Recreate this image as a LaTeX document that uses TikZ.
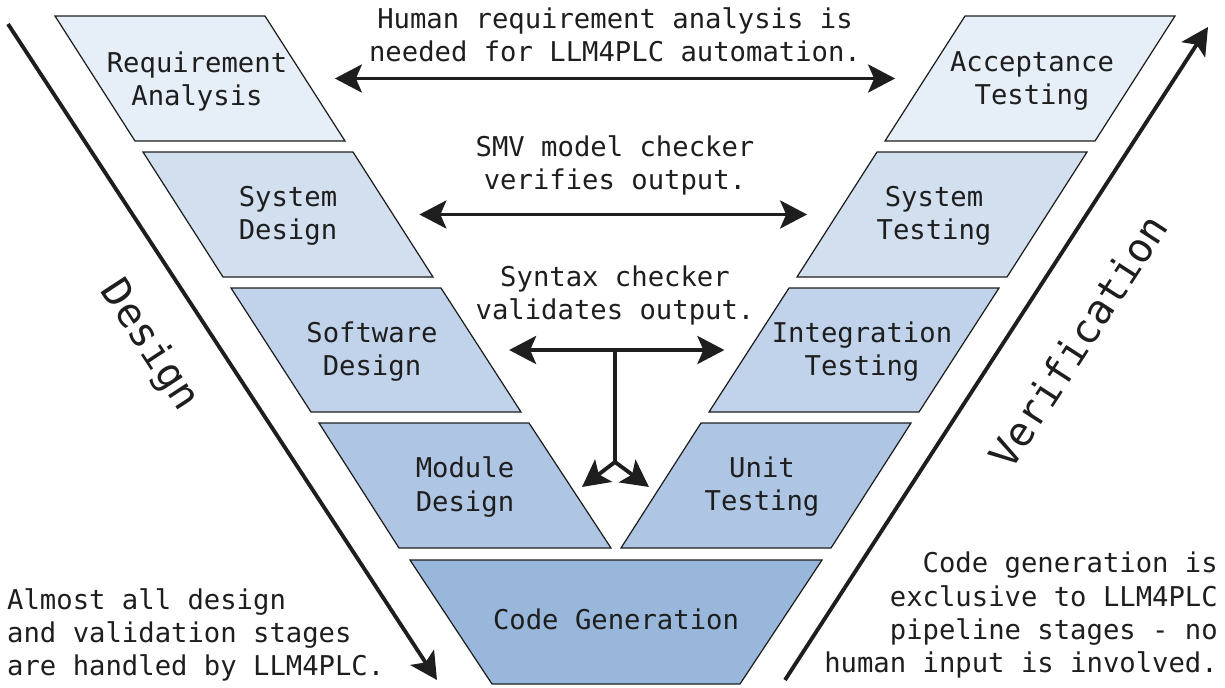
\documentclass[tikz,border=0pt]{standalone}
\usepackage{fontspec}
\setmonofont{DejaVu Sans Mono}
\usepackage{xcolor}
\usepackage{tikz}
\usetikzlibrary{
  arrows.meta,
  positioning,
  calc
}

\definecolor{vOne}{RGB}{230,238,247}
\definecolor{vTwo}{RGB}{209,223,239}
\definecolor{vThree}{RGB}{193,211,234}
\definecolor{vFour}{RGB}{174,198,228}
\definecolor{vCode}{RGB}{152,183,219}
\definecolor{ink}{RGB}{30,30,30}

\begin{document}
\begin{tikzpicture}[x=0.02cm, y=-0.02cm,
  >={Stealth[length=0.54cm,width=0.56cm,inset=0.12cm]},
  font=\ttfamily\fontsize{15.5}{18.8}\selectfont, text=ink,
  stage/.style={draw=ink, line width=0.7pt},
  label/.style={align=center},
  phase/.style={font=\ttfamily\fontsize{23}{26}\selectfont}]
\useasboundingbox (0,0) rectangle (1225,687);

% design side
\filldraw[stage,fill=vOne] (55,16) -- (265,16) -- (345,141) -- (135,141) -- cycle;
\filldraw[stage,fill=vTwo] (143,152) -- (353,152) -- (433,277) -- (223,277) -- cycle;
\filldraw[stage,fill=vThree] (231,288) -- (441,288) -- (521,412) -- (311,412) -- cycle;
\filldraw[stage,fill=vFour] (319,423) -- (529,423) -- (611,548) -- (399,548) -- cycle;

% testing side
\filldraw[stage,fill=vOne] (965,16) -- (1175,16) -- (1095,141) -- (885,141) -- cycle;
\filldraw[stage,fill=vTwo] (877,152) -- (1087,152) -- (1007,277) -- (797,277) -- cycle;
\filldraw[stage,fill=vThree] (789,288) -- (999,288) -- (919,412) -- (709,412) -- cycle;
\filldraw[stage,fill=vFour] (701,423) -- (911,423) -- (831,548) -- (621,548) -- cycle;

% bottom of the V
\filldraw[stage,fill=vCode] (410,560) -- (822,560) -- (740,684) -- (492,684) -- cycle;

\node[label] (req) at (197,81) {Requirement\\Analysis};
\node[label] (sysd) at (288,216) {System\\Design};
\node[label] (swd) at (372,352) {Software\\Design};
\node[label] (modd) at (465,487) {Module\\Design};
\node[label] (acc) at (1032,81) {Acceptance\\Testing};
\node[label] (syst) at (934,216) {System\\Testing};
\node[label] (intt) at (862,352) {Integration\\Testing};
\node[label] (unitt) at (762,487) {Unit\\Testing};
\node (codegen) at (616,619) {Code Generation};

% edge points for the links
\coordinate (reqR) at (305,78.5);
\coordinate (accL) at (925,78.5);
\coordinate (sysdR) at (393,214.5);
\coordinate (systL) at (837,214.5);
\coordinate (swdR) at (481,350);
\coordinate (inttL) at (749,350);
\coordinate (hub) at (615,350);
\coordinate (fork) at (615,462);
\coordinate (forkL) at (582,487);
\coordinate (forkR) at (649,487);

\draw[<->,line width=2.2pt,draw=ink,shorten <=17,shorten >=17] (reqR) -- (accL);
\draw[<->,line width=2.2pt,draw=ink,shorten <=15,shorten >=17] (sysdR) -- (systL);
\draw[<->,line width=2.2pt,draw=ink,shorten <=16,shorten >=14] (swdR) -- (inttL);
\draw[line width=2.2pt,draw=ink] (hub) -- (fork);
\draw[->,line width=2.2pt,draw=ink] (fork) -- (forkL);
\draw[->,line width=2.2pt,draw=ink] (fork) -- (forkR);

\node[label] (humanck) at (615,35) {Human requirement analysis is\\needed for LLM4PLC automation.};
\node[label] (smvck) at (615,165) {SMV model checker\\verifies output.};
\node[label] (synck) at (615,295) {Syntax checker\\validates output.};

% the two sides of the V
\coordinate (dStart) at (8,24);
\coordinate (dEnd) at (437,680);
\coordinate (vStart) at (785,680);
\coordinate (vEnd) at (1208,27);
\draw[->,line width=2.2pt,draw=ink] (dStart) -- (dEnd);
\draw[->,line width=2.2pt,draw=ink] (vStart) -- (vEnd);
\node[phase,rotate=-56.8] (design) at (149,346) {Design};
\node[phase,rotate=57.1] (verif) at (1078,341) {Verification};

\node[align=left,anchor=west] (llmnote) at (1,635)
{Almost all design\\and validation stages\\are handled by LLM4PLC.};
\node[align=right,anchor=east] (codenote) at (1224,615)
{Code generation is\\exclusive to LLM4PLC\\pipeline stages - no\\human input is involved.};
\end{tikzpicture}
\end{document}
